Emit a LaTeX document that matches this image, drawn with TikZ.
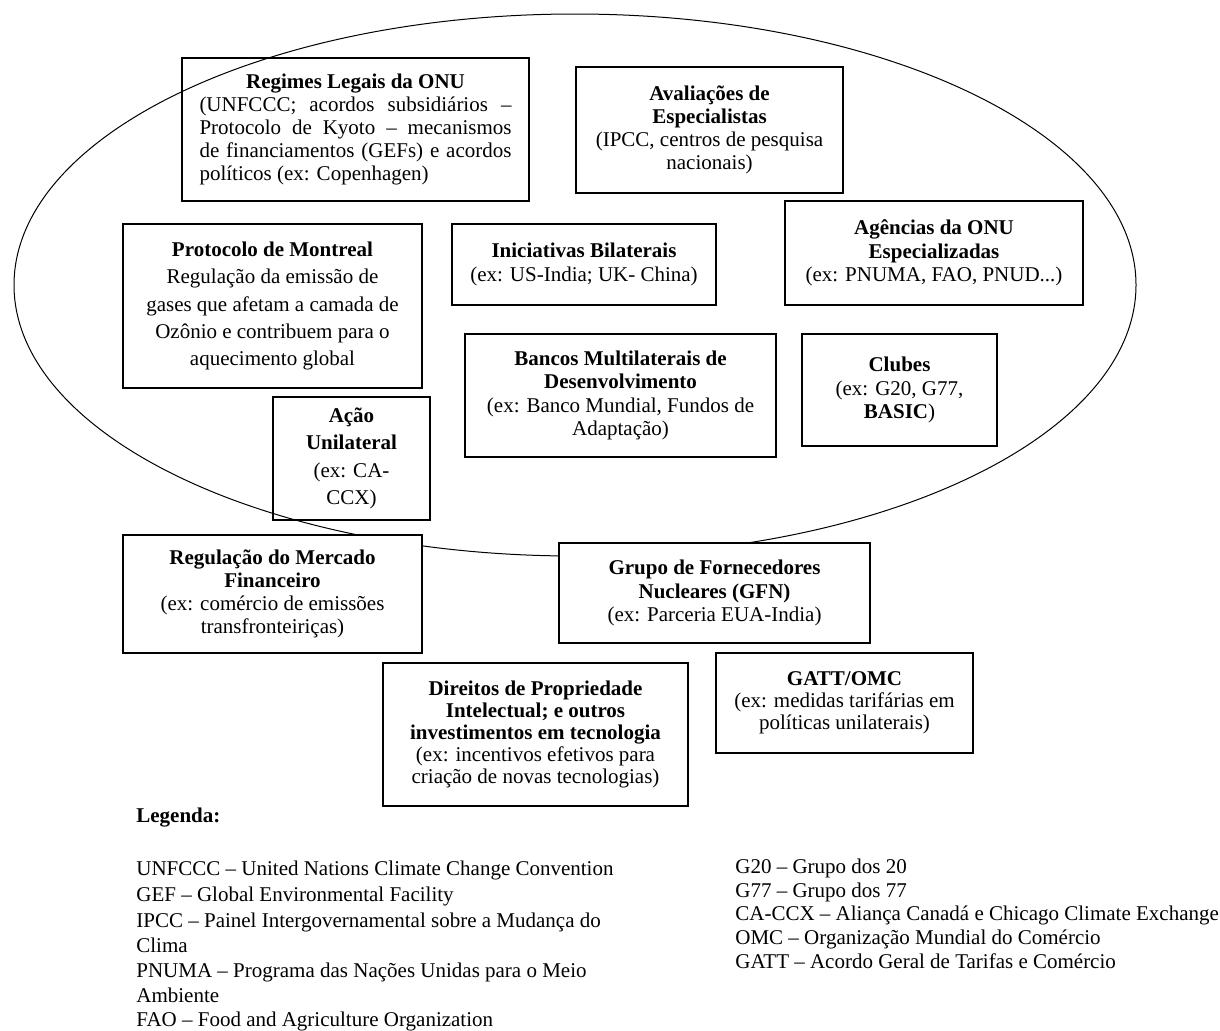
\documentclass[tikz,border=0pt]{standalone}
\usepackage{fontspec}
\setmainfont{Liberation Serif}

\begin{document}
\begin{tikzpicture}[x=0.5pt,y=-0.5pt,font=\fontsize{10.5}{11.6}\selectfont,
  blk/.style={draw,line width=0.6pt,align=center,inner sep=0pt},
  leg/.style={anchor=base west,inner sep=0pt}]
\def\regbox#1#2#3#4#5#6#7{% name, options, x1, y1, x2, y2, text
  \node[blk,minimum width={(#5-#3)*0.5pt},minimum height={(#6-#4)*0.5pt},#2]
    (#1) at ({(#3+#5)/2},{(#4+#6)/2}) {#7};}
\useasboundingbox (0,0) rectangle (1220,1030);
% the regime complex
\draw[line width=0.5pt] (575,285) ellipse [x radius=280.5pt,y radius=135.5pt];
\regbox{onu}{align=justify,text width=156pt}{182}{58}{529}{201}
  {{\centering\textbf{Regimes Legais da ONU}\endgraf}
   (UNFCCC; acordos subsidiários –\linebreak Protocolo de Kyoto – mecanismos\linebreak
   de financiamentos (GEFs) e acordos\linebreak políticos (ex: Copenhagen)}
\regbox{aval}{}{576}{67}{843}{193}
  {\textbf{Avaliações de}\\\textbf{Especialistas}\\(IPCC, centros de pesquisa\\nacionais)}
\regbox{mont}{font=\fontsize{10.5}{13.7}\selectfont}{123}{224}{422}{388}
  {\textbf{Protocolo de Montreal}\\Regulação da emissão de\\gases que afetam a camada de\\
   Ozônio e contribuem para o\\aquecimento global}
\regbox{bilat}{}{452}{224}{716}{305}
  {\textbf{Iniciativas Bilaterais}\\(ex: US-India; UK- China)}
\regbox{agen}{}{785}{201}{1083}{305}
  {\textbf{Agências da ONU}\\\textbf{Especializadas}\\(ex: PNUMA, FAO, PNUD...)}
\regbox{banco}{}{465}{334}{776}{457}
  {\textbf{Bancos Multilaterais de}\\\textbf{Desenvolvimento}\\(ex: Banco Mundial, Fundos de\\Adaptação)}
\regbox{clube}{}{802}{334}{997}{446}
  {\textbf{Clubes}\\(ex: G20, G77,\\\textbf{BASIC})}
\regbox{acao}{font=\fontsize{10.5}{13.7}\selectfont}{273}{397}{430}{520}
  {\textbf{Ação}\\\textbf{Unilateral}\\(ex: CA-\\CCX)}
% outside or on the edge
\regbox{merc}{fill=white}{123}{535}{422}{653}
  {\textbf{Regulação do Mercado}\\\textbf{Financeiro}\\(ex: comércio de emissões\\transfronteiriças)}
\regbox{gfn}{fill=white}{559}{543}{870}{643}
  {\textbf{Grupo de Fornecedores}\\\textbf{Nucleares (GFN)}\\(ex: Parceria EUA-India)}
\regbox{omc}{font=\fontsize{10.5}{11}\selectfont}{716}{653}{973}{753}
  {\textbf{GATT/OMC}\\(ex: medidas tarifárias em\\políticas unilaterais)}
\regbox{dpi}{font=\fontsize{10.5}{11}\selectfont}{383}{663}{688}{806}
  {\textbf{Direitos de Propriedade}\\\textbf{Intelectual; e outros}\\\textbf{investimentos em tecnologia}\\
   (ex: incentivos efetivos para\\criação de novas tecnologias)}
% legend
\node[leg] (legenda) at (136,822) {\textbf{Legenda:}};
\foreach \y/\l [count=\i] in {875/{UNFCCC – United Nations Climate Change Convention},
    901/{GEF – Global Environmental Facility},
    927/{IPCC – Painel Intergovernamental sobre a Mudança do},
    952/{Clima},
    977/{PNUMA – Programa das Nações Unidas para o Meio},
    1002/{Ambiente},
    1026/{FAO – Food and Agriculture Organization}}
  \node[leg] (lgl\i) at (136,\y) {\l};
\foreach \y/\l [count=\i] in {873/{G20 – Grupo dos 20},
    897/{G77 – Grupo dos 77},
    920/{CA-CCX – Aliança Canadá e Chicago Climate Exchange},
    944/{OMC – Organização Mundial do Comércio},
    968/{GATT – Acordo Geral de Tarifas e Comércio}}
  \node[leg] (lgr\i) at (735,\y) {\l};
\end{tikzpicture}
\end{document}
